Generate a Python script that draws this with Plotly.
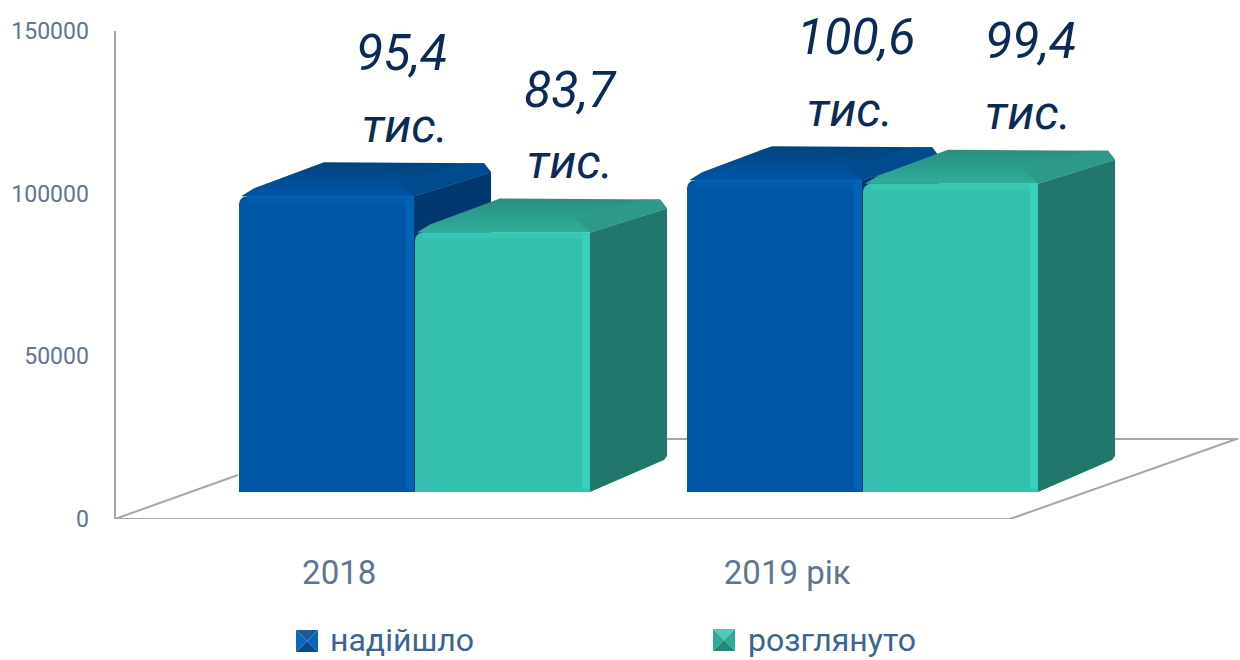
import plotly.graph_objects as go

categories = ["2018", "2019 рік"]
series_names = ["надійшло", "розглянуто"]
received = [95400, 100600]
reviewed = [83700, 99400]
received_labels = ["95,4", "100,6"]
reviewed_labels = ["83,7", "99,4"]
unit_label = "тис."
y_ticks = [0, 50000, 100000, 150000]

W, H = 1240, 660
X0, GROUP = 414, 448          # pixel of first category, pixels per category
Y_ZERO, Y_TOP = 519, 31       # pixel span of the value axis
FRONT_SCALE = 0.0031          # px per unit on the (perspective-shrunk) bar fronts
BAR_BASE = 492


def ux(px):
    return px / GROUP


def ix(px):
    return (px - X0) / GROUP


def uy(px):
    return px / FRONT_SCALE


def my(px):
    return (Y_ZERO - px) * 150000 / (Y_ZERO - Y_TOP)


BAR_W = ux(175)
DX = ux(77)
FONT = "Roboto, sans-serif"
GRID = "#A8A8A8"

fig = go.Figure()


def poly(xs, ys, color, yaxis, grad=None, xaxis="x"):
    t = dict(x=xs + xs[:1], y=ys + ys[:1], mode="lines", fill="toself", yaxis=yaxis, xaxis=xaxis,
             line=dict(color=color, width=0), hoverinfo="skip", showlegend=False,
             cliponaxis=False)
    if grad:
        t["fillgradient"] = dict(type="vertical", colorscale=[[0, grad[0]], [1, grad[1]]])
    else:
        t["fillcolor"] = color
    fig.add_trace(go.Scatter(**t))


def line(xs, ys, color, width, yaxis):
    fig.add_trace(go.Scatter(x=xs, y=ys, mode="lines", yaxis=yaxis, hoverinfo="skip",
                             showlegend=False, cliponaxis=False,
                             line=dict(color=color, width=width)))


# floor
line([ix(115), ix(1010)], [0, 0], GRID, 2, "y")
line([ix(115), ix(238)], [0, my(475)], GRID, 2, "y")
line([ix(1010), ix(1238)], [0, my(438.5)], GRID, 2, "y")
line([ix(343), ix(1238)], [my(439), my(439)], GRID, 2, "y")


def draw_series(name, values, offset, yaxis, front, hi, top_hi, side, top_back, top_front, tri):
    for i, v in enumerate(values):
        x0 = i + offset
        x1 = x0 + BAR_W
        # side face with chamfered outer corners
        poly([x1, x1 + DX, x1 + DX, x1 + DX - ux(3), x1],
             [v, v + uy(24), uy(36), uy(32), 0], side, yaxis)
        # top face
        poly([x0 + ux(2), x0 + ux(15), x0 + ux(85), x1 + ux(70), x1 + DX, x1],
             [v, v + uy(8), v + uy(34), v + uy(33), v + uy(24), v],
             top_back, yaxis, (top_front, top_back))
        # lighter bevel between top and side
        poly([x1 - ux(15), x1, x1 + DX, x1 + DX - ux(7), x1 + DX - ux(26)],
             [v + uy(14), v, v + uy(24), v + uy(33), v + uy(33)], tri, yaxis)
    fig.add_trace(go.Bar(x=list(range(len(values))), y=values, width=BAR_W,
                         offset=offset, name=name, yaxis=yaxis, hoverinfo="skip",
                         showlegend=False, cliponaxis=False,
                         marker=dict(color=front, line_width=0, cornerradius=8)))
    for i, v in enumerate(values):
        x0 = i + offset
        x1 = x0 + BAR_W
        line([x0 + ux(8), x1], [v - uy(3), v - uy(3)], top_hi, 6, yaxis)
        line([x1 - ux(4), x1 - ux(4)], [uy(3), v], hi, 8, yaxis)


draw_series(series_names[0], received, -BAR_W, "y2", "#0057A8", "#0063B6", "#005CAF", "#00386F",
            "#00447F", "#0056A6", "#004B8E")
draw_series(series_names[1], reviewed, ux(1), "y3", "#35BFAD", "#38D0BA", "#37C7B3", "#21776B",
            "#288F7D", "#2FAE9B", "#2D9A88")


# legend swatches live in their own pixel-scaled strip at the bottom of the page
STRIP = 40


def swatch(cx, cy, colors):
    r = 11
    c = (cx, H - cy)
    pts = [(cx - r, H - cy + r), (cx + r, H - cy + r), (cx + r, H - cy - r), (cx - r, H - cy - r)]
    for k, col in enumerate(colors):
        a, b = pts[k], pts[(k + 1) % 4]
        poly([a[0], b[0], c[0]], [a[1], b[1], c[1]], col, "y4", xaxis="x2")


swatch(307, 641, ["#1C5A98", "#0A66BC", "#0B4A86", "#0A66BC"])
swatch(724, 640, ["#49CDB7", "#2FA896", "#24877A", "#2FA896"])

ann = []
for name, px in zip(series_names, [328, 746]):
    ann.append(dict(x=px / W, y=1 - 640 / H, xref="paper", yref="paper", text=name, showarrow=False,
                    xanchor="left", yanchor="middle",
                    font=dict(family=FONT, size=32, color="#3D6391")))

LABEL = dict(family=FONT, size=50, color="#0B2A55")
for labels, values, nshift, ushift, yaxis in [
    (received_labels, received, [-13, -6], [-9, -12], "y2"),
    (reviewed_labels, reviewed, [156, 168], [156, 166], "y3"),
]:
    for i, (t, v) in enumerate(zip(labels, values)):
        ann.append(dict(x=i, y=v, xref="x", yref=yaxis, text="<i>%s</i>" % t, showarrow=False,
                        xshift=nshift[i], yshift=143, yanchor="middle", xanchor="center",
                        font=LABEL))
        ann.append(dict(x=i, y=v, xref="x", yref=yaxis, text="<i>%s</i>" % unit_label,
                        showarrow=False, xshift=ushift[i], yshift=71, yanchor="middle",
                        xanchor="center", font=dict(LABEL, size=48)))

fig.update_layout(
    width=W, height=H, margin=dict(l=0, r=0, t=0, b=0),
    paper_bgcolor="white", plot_bgcolor="white", showlegend=False, barmode="overlay",
    annotations=ann,
    xaxis=dict(range=[ix(0), ix(W)], domain=[0, 1], showgrid=False, zeroline=False,
               showline=False, ticks="", tickmode="array", automargin=False,
               tickvals=[i - 0.167 for i in range(len(categories))], ticktext=categories,
               tickfont=dict(family=FONT, size=33, color="#5F7590"), ticklabelstandoff=31,
               anchor="y"),
    yaxis=dict(range=[0, 150000], domain=[1 - Y_ZERO / H, 1 - Y_TOP / H], anchor="free",
               position=114.5 / W, showgrid=False, zeroline=False, showline=True,
               automargin=False,
               linecolor=GRID, linewidth=2, ticks="", tickmode="array", tickvals=y_ticks,
               tickformat="d", tickfont=dict(family=FONT, size=23, color="#5F7590"),
               ticklabelstandoff=20),
    xaxis2=dict(range=[0, W], domain=[0, 1], visible=False, anchor="y4", automargin=False),
    yaxis4=dict(range=[0, STRIP], domain=[0, STRIP / H], visible=False, anchor="x2", automargin=False),
)
rng2 = [(BAR_BASE - Y_ZERO) / FRONT_SCALE, (BAR_BASE - Y_TOP) / FRONT_SCALE]
fig.update_layout(
    yaxis2=dict(range=rng2, overlaying="y", visible=False, automargin=False),
    yaxis3=dict(range=rng2, overlaying="y", visible=False, automargin=False),
)

fig.write_html("out.html", config={"displayModeBar": False},
               post_script="document.body.style.margin='0';")
